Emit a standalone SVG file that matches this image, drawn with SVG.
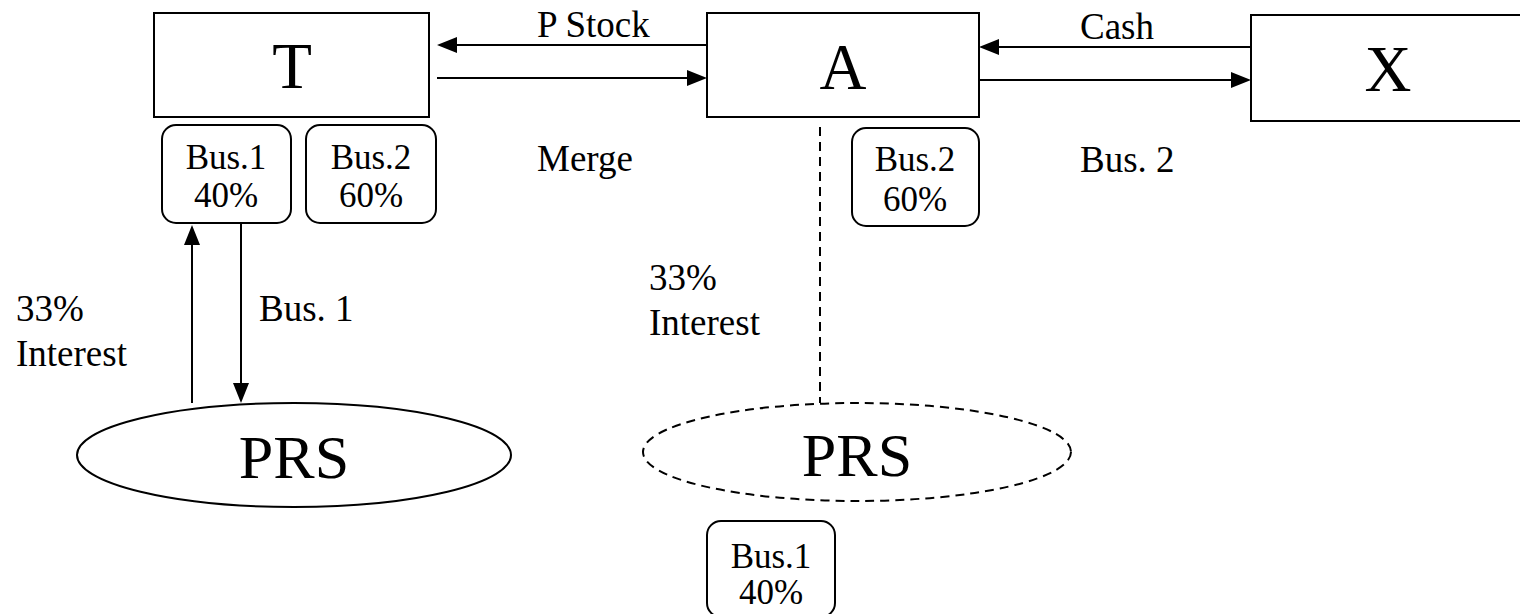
<svg xmlns="http://www.w3.org/2000/svg" width="1520" height="614" viewBox="0 0 1520 614">
<style>
  .box{fill:#fff;stroke:#000;stroke-width:2}
  .sbox{fill:#fff;stroke:#000;stroke-width:2}
  .big{font-family:"Liberation Serif","Times New Roman",serif;font-size:65px;text-anchor:middle;fill:#000}
  .prs{font-family:"Liberation Serif","Times New Roman",serif;font-size:62px;text-anchor:middle;fill:#000}
  .lbl{font-family:"Liberation Serif","Times New Roman",serif;font-size:37px;fill:#000}
  .btx{font-family:"Liberation Serif","Times New Roman",serif;font-size:35px;text-anchor:middle;fill:#000}
  .conn{stroke:#000;stroke-width:2;fill:none}
  .dash{stroke:#000;stroke-width:2;fill:none;stroke-dasharray:9 6}
</style>
<defs>
  <marker id="ah" viewBox="0 0 20 16" refX="10" refY="8" markerWidth="20" markerHeight="16" markerUnits="userSpaceOnUse" orient="auto">
    <path d="M0,0 L20,8 L0,16 z" fill="#000"/>
  </marker>
</defs>
<rect width="1520" height="614" fill="#fff"/>
<g id="connectors">
  <line class="conn" x1="707" y1="45" x2="447" y2="45" marker-end="url(#ah)"/>
  <line class="conn" x1="437" y1="78" x2="697" y2="78" marker-end="url(#ah)"/>
  <line class="conn" x1="1251" y1="47" x2="989" y2="47" marker-end="url(#ah)"/>
  <line class="conn" x1="979" y1="80" x2="1241" y2="80" marker-end="url(#ah)"/>
  <line class="conn" x1="192" y1="403" x2="192" y2="235" marker-end="url(#ah)"/>
  <line class="conn" x1="241" y1="223" x2="241" y2="393" marker-end="url(#ah)"/>
  <line class="dash" x1="820" y1="127" x2="820" y2="403"/>
</g>
<g id="labels">
  <text class="lbl" x="537" y="37">P Stock</text>
  <text class="lbl" x="537" y="171">Merge</text>
  <text class="lbl" x="1080" y="39">Cash</text>
  <text class="lbl" x="1080" y="172">Bus. 2</text>
  <text class="lbl" x="16" y="321">33%</text>
  <text class="lbl" x="16" y="366">Interest</text>
  <text class="lbl" x="259" y="321">Bus. 1</text>
  <text class="lbl" x="649" y="290">33%</text>
  <text class="lbl" x="649" y="335">Interest</text>
</g>
<g id="node-T">
  <rect class="box" x="154" y="13" width="275" height="104"/>
  <text class="big" x="292" y="88">T</text>
</g>
<g id="node-A">
  <rect class="box" x="707" y="13" width="272" height="104"/>
  <text class="big" x="843" y="89">A</text>
</g>
<g id="node-X">
  <rect class="box" x="1251" y="15" width="290" height="106"/>
  <text class="big" x="1388" y="91">X</text>
</g>
<g id="node-T-bus1">
  <rect class="sbox" x="162" y="125" width="129" height="98" rx="14"/>
  <text class="btx" x="226" y="169">Bus.1</text>
  <text class="btx" x="226" y="207">40%</text>
</g>
<g id="node-T-bus2">
  <rect class="sbox" x="306" y="125" width="130" height="98" rx="14"/>
  <text class="btx" x="371" y="169">Bus.2</text>
  <text class="btx" x="371" y="207">60%</text>
</g>
<g id="node-A-bus2">
  <rect class="sbox" x="852" y="128" width="127" height="98" rx="14"/>
  <text class="btx" x="915" y="171">Bus.2</text>
  <text class="btx" x="915" y="211">60%</text>
</g>
<g id="node-PRS-left">
  <ellipse class="box" cx="294" cy="455" rx="217" ry="52"/>
  <text class="prs" x="294" y="478">PRS</text>
</g>
<g id="node-PRS-right">
  <ellipse class="dash" cx="857" cy="452" rx="214" ry="49"/>
  <text class="prs" x="857" y="476">PRS</text>
</g>
<g id="node-PRS-bus1">
  <rect class="sbox" x="707" y="521" width="128" height="96" rx="14"/>
  <text class="btx" x="771" y="568">Bus.1</text>
  <text class="btx" x="771" y="604">40%</text>
</g>
</svg>
